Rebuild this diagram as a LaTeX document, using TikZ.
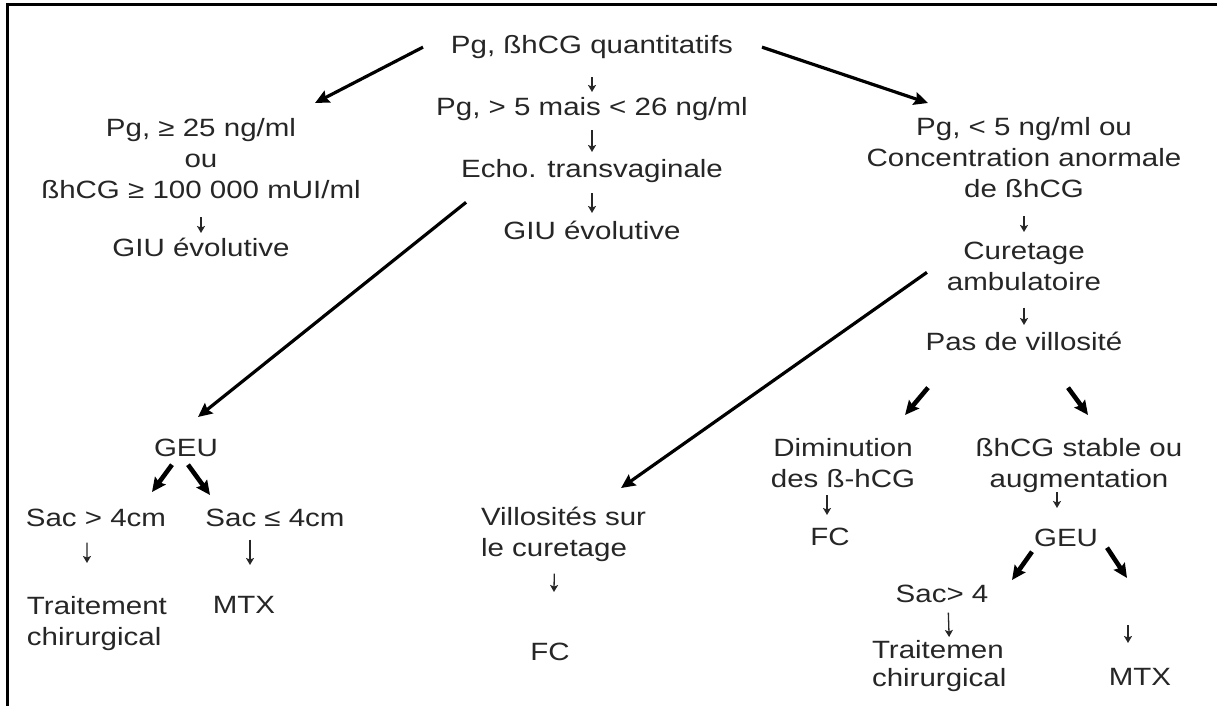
\documentclass[tikz,border=0pt]{standalone}
\usepackage{fontspec}
\setmainfont{Liberation Sans}[FakeStretch=1.18]
\usetikzlibrary{arrows.meta}
\tikzset{>=Stealth}
\tikzset{
  txt/.style={inner sep=0pt,outer sep=0pt,align=center,anchor=north,text=black!85,
    font=\fontsize{25}{31}\selectfont},
  txtl/.style={txt,align=left,anchor=north west},
  big/.style={-{Stealth[length=14pt,width=13pt,inset=2pt]},line width=3.2pt},
  fat/.style={big,line width=4.6pt},
  dn/.style={-{Stealth[length=7pt,width=8pt,inset=1.5pt]},line width=1.3pt,black!85},
}

\begin{document}
\begin{tikzpicture}[x=1pt,y=-1pt]
\useasboundingbox (0,0) rectangle (1217,706);
\draw[line width=3pt] (7,706) -- (7,4.5) -- (1217,4.5);
% middle column
\node[txt] (top) at (592,35) {Pg, ßhCG quantitatifs};
\node[txt] (mid) at (592,97) {Pg, > 5 mais < 26 ng/ml};
\node[txt] (echo) at (592,159) {Echo. transvaginale};
\node[txt] (giuB) at (592,221) {GIU évolutive};
% left column
\node[txt] (hi) at (201,118) {Pg, ≥ 25 ng/ml\\ou\\ßhCG ≥ 100 000 mUI/ml};
\node[txt] (giuA) at (201,238) {GIU évolutive};
\node[txt] (geuA) at (186,439) {GEU};
\node[txt] (sac1) at (96,509) {Sac > 4cm};
\node[txt] (sac2) at (275,509) {Sac ≤ 4cm};
\node[txtl] (trtA) at (27,596) {Traitement\\chirurgical};
\node[txt] (mtxA) at (244,596) {MTX};
% right column
\node[txt] (lo) at (1024,117) {Pg, < 5 ng/ml ou\\Concentration anormale\\de ßhCG};
\node[txt] (cur) at (1024,242) {Curetage\\ambulatoire};
\node[txt] (pas) at (1024,332) {Pas de villosité};
\node[txtl] (vil) at (481,507) {Villosités sur\\le curetage};
\node[txt] (fcA) at (550,643) {FC};
\node[txt] (dim) at (843,438) {Diminution\\des ß-hCG};
\node[txt] (fcB) at (830,528) {FC};
\node[txt] (stab) at (1079,438) {ßhCG stable ou\\augmentation};
\node[txt] (geuB) at (1066,529) {GEU};
\node[txt] (sac3) at (942,585) {Sac> 4};
\node[txtl,font=\fontsize{25}{28}\selectfont] (trtB) at (872,640) {Traitemen\\chirurgical};
\node[txt] (mtxB) at (1140,668) {MTX};
\coordinate (e2) at (1127,578);
\coordinate (d2) at (1128,625);
% small arrows
\draw[dn,shorten <=19pt,shorten >=5pt] (top) -- (mid);
\draw[dn,shorten <=10pt,shorten >=7pt] (mid) -- (echo);
\draw[dn,shorten <=11pt,shorten >=8pt] (echo) -- (giuB);
\draw[dn,shorten <=19pt,shorten >=5pt] (hi) -- (giuA);
\draw[dn,shorten <=19pt,shorten >=10pt] (lo) -- (cur);
\draw[dn,shorten <=17pt,shorten >=7pt] (cur) -- (pas);
\draw[dn,shorten <=16pt,shorten >=33pt] ([xshift=-9pt]sac1.south) -- ([xshift=-10pt]trtA.north);
\draw[dn,line width=1.8pt,shorten <=13pt,shorten >=31pt] ([xshift=-25pt]sac2.south) -- ([xshift=6pt]mtxA.north);
\draw[dn,shorten <=12pt,shorten >=51pt] ([xshift=-9pt]vil.south) -- ([xshift=3pt]fcA.north);
\draw[dn,shorten <=8pt,shorten >=13pt] ([xshift=-16pt]dim.south) -- ([xshift=-3pt]fcB.north);
\draw[dn,shorten >=21pt] ([xshift=-22pt]stab.south) -- ([xshift=-9pt]geuB.north);
\draw[dn,shorten <=10pt,shorten >=3pt] ([xshift=6pt]sac3.south) -- ([xshift=10pt]trtB.north);
\draw[dn,shorten >=25pt] (d2) -- ([xshift=-12pt]mtxB.north);
% thick arrows
\draw[big] ([shift={(-28,0.5)}]top.west) -- ([shift={(114,-15)}]hi.north);
\draw[big] ([shift={(29,0.5)}]top.east) -- ([shift={(-96,-14)}]lo.north);
\draw[big] ([shift={(5,20)}]echo.south west) -- ([shift={(12,-22)}]geuA.north);
\draw[big] ([shift={(-20,6)}]cur.west) -- ([shift={(-25,-19)}]vil.north east);
\draw[fat] ([shift={(-96,37)}]pas.south) -- ([shift={(62,-23)}]dim.north);
\draw[fat] ([shift={(44,37)}]pas.south) -- ([shift={(9,-23)}]stab.north);
\draw[fat] ([shift={(-14,8)}]geuA.south) -- ([shift={(56,-17)}]sac1.north);
\draw[fat] ([shift={(2,8)}]geuA.south) -- ([shift={(-65,-14)}]sac2.north);
\draw[fat] ([shift={(-34,5)}]geuB.south) -- ([shift={(70,-5)}]sac3.north);
\draw[fat] ([shift={(41,1)}]geuB.south) -- (e2);
\end{tikzpicture}
\end{document}
